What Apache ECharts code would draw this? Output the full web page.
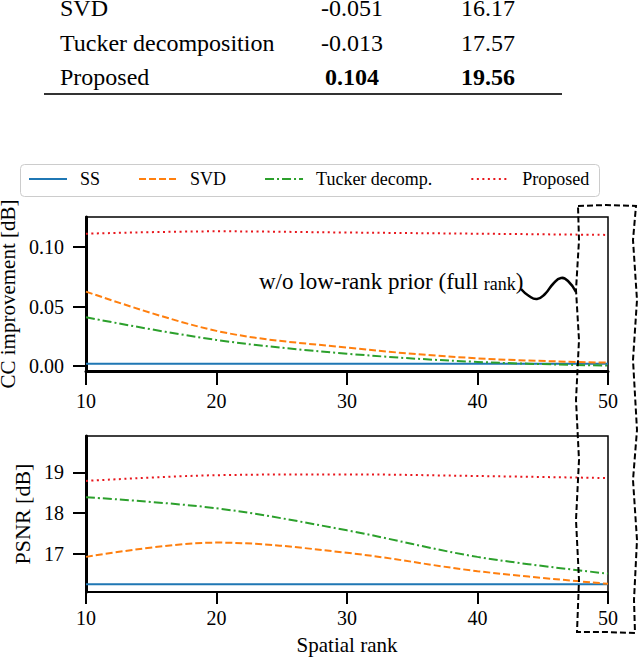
<!DOCTYPE html>
<html>
<head>
<meta charset="utf-8">
<script src="https://cdn.jsdelivr.net/npm/echarts@6/dist/echarts.min.js"></script>
<style>
  html, body { margin: 0; padding: 0; background: #fff; }
  #chart { width: 640px; height: 657px; }
</style>
</head>
<body>
<div id="chart"></div>
<script>
var ranks = [10, 20, 30, 40, 50];
var rankTicks = [10, 20, 30, 40, 50];

var methods = ['SS', 'SVD', 'Tucker decomp.', 'Proposed'];

// CC improvement [dB]
var ccSS = [0.002, 0.002, 0.002, 0.002, 0.002];
var ccSVD = [0.0625, 0.0296, 0.0156, 0.0066, 0.003];
var ccTucker = [0.041, 0.022, 0.0105, 0.0036, 0.0005];
var ccProposed = [0.111, 0.113, 0.112, 0.111, 0.110];
var ccTicks = [0, 0.05, 0.10];

// PSNR [dB]
var psnrSS = [16.26, 16.26, 16.26, 16.26, 16.26];
var psnrSVD = [16.93, 17.28, 17.03, 16.58, 16.27];
var psnrTucker = [18.39, 18.12, 17.58, 16.93, 16.52];
var psnrProposed = [18.79, 18.93, 18.95, 18.91, 18.86];
var psnrTicks = [17, 18, 19];

// table rows (top part of the figure)
var tableNames = ['SVD', 'Tucker decomposition', 'Proposed'];
var tableCC = ['-0.051', '-0.013', '0.104'];
var tablePSNR = ['16.17', '17.57', '19.56'];

var FONT = '"Liberation Serif", "DejaVu Serif", serif';
var colors = ['#1f77b4', '#ff7f0e', '#2ca02c', '#e8161c'];
var dashes = ['solid', [7, 3], [9, 3, 2, 3], [2, 3.5]];

var chart = echarts.init(document.getElementById('chart'), null, { renderer: 'svg' });

function pairs(ys) {
  return ranks.map(function (r, i) { return [r, ys[i]]; });
}

function makeSeries(name, idx, ys, gridIdx) {
  return {
    name: name,
    type: 'line',
    xAxisIndex: gridIdx,
    yAxisIndex: gridIdx,
    data: pairs(ys),
    symbol: 'none',
    smooth: 0.35,
    z: 2 + idx,
    lineStyle: { color: colors[idx], width: 2, type: dashes[idx] },
    itemStyle: { color: colors[idx] }
  };
}

function xAxisOf(gridIdx, margin, tickLen) {
  return {
    type: 'value',
    gridIndex: gridIdx,
    min: 10,
    max: 50,
    interval: 10,
    splitLine: { show: false },
    axisLine: { show: true, onZero: false, lineStyle: { color: '#000', width: gridIdx === 0 ? 3 : 2 } },
    axisTick: { show: true, length: tickLen, lineStyle: { color: '#000', width: 2 } },
    axisLabel: {
      color: '#000', fontFamily: FONT, fontSize: 20, margin: margin,
      customValues: rankTicks
    }
  };
}

function yAxisOf(gridIdx, min, max, ticks, fmt, name, gap, size) {
  return {
    type: 'value',
    gridIndex: gridIdx,
    min: min,
    max: max,
    name: name,
    nameLocation: 'middle',
    nameRotate: 90,
    nameGap: gap,
    nameTextStyle: { color: '#000', fontFamily: FONT, fontSize: size },
    splitLine: { show: false },
    axisLine: { show: true, onZero: false, lineStyle: { color: '#000', width: 3 } },
    axisTick: { show: true, length: 13, lineStyle: { color: '#000', width: 2 }, customValues: ticks },
    axisLabel: {
      color: '#000', fontFamily: FONT, fontSize: 20, margin: 22,
      customValues: ticks,
      formatter: fmt
    }
  };
}

var series = [
  makeSeries(methods[0], 0, ccSS, 0),
  makeSeries(methods[1], 1, ccSVD, 0),
  makeSeries(methods[2], 2, ccTucker, 0),
  makeSeries(methods[3], 3, ccProposed, 0),
  makeSeries(methods[0], 0, psnrSS, 1),
  makeSeries(methods[1], 1, psnrSVD, 1),
  makeSeries(methods[2], 2, psnrTucker, 1),
  makeSeries(methods[3], 3, psnrProposed, 1)
];

// table texts
var graphics = [];
var rowY = [8, 43, 77];
tableNames.forEach(function (n, i) {
  var bold = i === tableNames.length - 1 ? 'bold' : 'normal';
  graphics.push({ type: 'text', x: 60, y: rowY[i], style: { text: n, font: '24px ' + FONT, fill: '#000', verticalAlign: 'middle' } });
  graphics.push({ type: 'text', x: 352, y: rowY[i], style: { text: tableCC[i], font: bold + ' 24px ' + FONT, fill: '#000', align: 'center', verticalAlign: 'middle' } });
  graphics.push({ type: 'text', x: 488, y: rowY[i], style: { text: tablePSNR[i], font: bold + ' 24px ' + FONT, fill: '#000', align: 'center', verticalAlign: 'middle' } });
});
graphics.push({ type: 'line', shape: { x1: 44, y1: 94, x2: 562, y2: 94 }, style: { stroke: '#333', lineWidth: 2 } });

// legend frame
graphics.push({ type: 'rect', shape: { x: 20.5, y: 164.5, width: 579, height: 32, r: 4 }, style: { fill: '#fff', stroke: '#cccccc', lineWidth: 1 }, z: -1 });

// annotation
graphics.push({
  type: 'text', x: 259, y: 280, z: 10,
  style: {
    text: '{a|w/o low-rank prior (full }{b|rank}{a|)}',
    verticalAlign: 'middle',
    rich: {
      a: { font: '23px ' + FONT, fill: '#000', lineHeight: 26, verticalAlign: 'bottom' },
      b: { font: '18px ' + FONT, fill: '#000', lineHeight: 20, verticalAlign: 'bottom' }
    }
  }
});
graphics.push({
  type: 'polyline', z: 10,
  shape: { points: [[521, 289], [529, 296], [537, 299], [545, 294], [553, 284], [561, 278], [568, 281], [576, 292]], smooth: 0.5 },
  style: { stroke: '#000', lineWidth: 2.5, fill: null }
});
// dashed wavy frame around rank 50
graphics.push({
  type: 'polyline', z: 10,
  shape: {
    points: [[578, 206], [606, 205], [636, 206], [633, 240], [637, 300], [633, 360], [637, 430], [633, 480], [637, 540], [634, 600], [635, 633],
      [606, 632], [577, 632], [579, 580], [576, 520], [579, 460], [576, 400], [579, 340], [576, 290], [579, 240], [578, 206]]
  },
  style: { stroke: '#000', lineWidth: 2, lineDash: [6, 3], fill: null }
});

var option = {
  backgroundColor: '#fff',
  animation: false,
  legend: {
    data: methods,
    left: 28,
    top: 170,
    padding: 0,
    itemWidth: 38,
    itemHeight: 18,
    itemGap: 38,
    itemStyle: { opacity: 0 },
    textStyle: { color: '#000', fontFamily: FONT, fontSize: 18, padding: [0, 0, 0, 8] }
  },
  grid: [
    { left: 86, right: 32, top: 217, height: 154, show: true, borderColor: '#000', borderWidth: 1.5, outerBoundsMode: 'none' },
    { left: 86, right: 32, top: 436, height: 156, show: true, borderColor: '#000', borderWidth: 1.5, outerBoundsMode: 'none' }
  ],
  xAxis: [
    xAxisOf(0, 20, 14),
    Object.assign(xAxisOf(1, 16, 12), {
      name: 'Spatial rank',
      nameLocation: 'middle',
      nameGap: 42,
      nameTextStyle: { color: '#000', fontFamily: FONT, fontSize: 21 }
    })
  ],
  yAxis: [
    yAxisOf(0, -0.004, 0.125, ccTicks, function (v) { return v.toFixed(2); }, 'CC improvement [dB]', 62, 21),
    yAxisOf(1, 16.07, 19.89, psnrTicks, function (v) { return String(Math.round(v)); }, 'PSNR [dB]', 46, 22)
  ],
  graphic: graphics,
  series: series
};

chart.setOption(option);
</script>
</body>
</html>
